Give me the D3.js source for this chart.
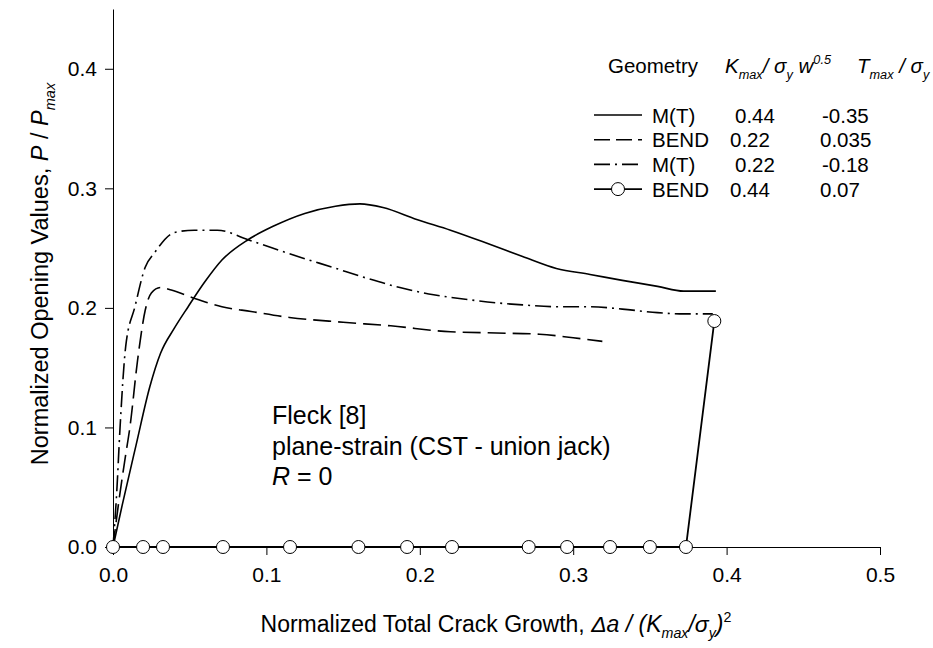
<!DOCTYPE html>
<html>
<head>
<meta charset="utf-8">
<script src="https://cdn.jsdelivr.net/npm/d3@7/dist/d3.min.js"></script>
<style>
  html, body { margin: 0; padding: 0; background: #fff; }
  svg { display: block; font-family: "Liberation Sans", Arial, sans-serif; }
</style>
</head>
<body>
<svg id="chart" width="933" height="648"></svg>
<script>
// Series: normalized crack growth (x) vs normalized opening load (y)
const mt044X = [0, 0.006, 0.015, 0.024, 0.031, 0.040, 0.049, 0.060, 0.071, 0.088, 0.104, 0.125, 0.145, 0.161, 0.176, 0.198, 0.220, 0.246, 0.267, 0.289, 0.311, 0.332, 0.355, 0.372, 0.393];
const mt044Y = [0, 0.035, 0.085, 0.134, 0.162, 0.183, 0.201, 0.222, 0.240, 0.257, 0.268, 0.279, 0.285, 0.287, 0.284, 0.274, 0.265, 0.253, 0.243, 0.233, 0.228, 0.223, 0.218, 0.214, 0.214];

const bend022X = [0, 0.004, 0.008, 0.011, 0.016, 0.021, 0.025, 0.031, 0.038, 0.053, 0.071, 0.090, 0.115, 0.150, 0.181, 0.220, 0.250, 0.278, 0.300, 0.319];
const bend022Y = [0, 0.040, 0.075, 0.100, 0.156, 0.198, 0.2125, 0.217, 0.215, 0.208, 0.201, 0.197, 0.192, 0.188, 0.185, 0.180, 0.179, 0.178, 0.175, 0.172];

const mt022X = [0, 0.0024, 0.0046, 0.0083, 0.0143, 0.021, 0.027, 0.040, 0.053, 0.068, 0.088, 0.104, 0.123, 0.143, 0.165, 0.187, 0.209, 0.231, 0.252, 0.267, 0.289, 0.311, 0.332, 0.355, 0.372, 0.391];
const mt022Y = [0, 0.045, 0.100, 0.168, 0.201, 0.234, 0.246, 0.263, 0.265, 0.265, 0.257, 0.250, 0.242, 0.234, 0.225, 0.217, 0.211, 0.207, 0.204, 0.2025, 0.201, 0.201, 0.199, 0.196, 0.195, 0.195];

const bend044X = [0, 0.0196, 0.0326, 0.0717, 0.1154, 0.160, 0.1917, 0.221, 0.271, 0.296, 0.324, 0.350, 0.3735, 0.392];
const bend044Y = [0, 0, 0, 0, 0, 0, 0, 0, 0, 0, 0, 0, 0, 0.189];

// Axis ticks
const xTicks = [0, 0.1, 0.2, 0.3, 0.4, 0.5];
const yTicks = [0, 0.1, 0.2, 0.3, 0.4];

// Legend table
const legendGeometry = ["M(T)", "BEND", "M(T)", "BEND"];
const legendK = ["0.44", "0.22", "0.22", "0.44"];
const legendT = ["-0.35", "0.035", "-0.18", "0.07"];

const svg = d3.select("#chart");
svg.append("rect").attr("width", 933).attr("height", 648).attr("fill", "#fff");

const x = d3.scaleLinear().domain([0, 0.5]).range([113, 880]);
const y = d3.scaleLinear().domain([0, 0.45]).range([547, 9]);

// Text with italic / sub / superscript runs
function rich(parent, px, py, parts, size, anchor) {
  const t = parent.append("text")
    .attr("x", px).attr("y", py)
    .attr("font-size", size)
    .attr("text-anchor", anchor || "start")
    .attr("fill", "#000");
  let shift = 0;
  parts.forEach(p => {
    const s = (p.sub || p.sup) ? size * 0.62 : size;
    const target = p.sub ? size * 0.28 : (p.sup ? -size * 0.42 : 0);
    const ts = t.append("tspan")
      .attr("font-size", s)
      .attr("dy", target - shift)
      .style("white-space", "pre")
      .text(p.t);
    if (p.i) ts.attr("font-style", "italic");
    shift = target;
  });
  return t;
}

// Axes
const xAxis = d3.axisBottom(x).tickValues(xTicks).tickFormat(d3.format(".1f"))
  .tickSizeInner(8).tickSizeOuter(0).tickPadding(12);
const yAxis = d3.axisLeft(y).tickValues(yTicks).tickFormat(d3.format(".1f"))
  .tickSizeInner(8).tickSizeOuter(0).tickPadding(8);

const gx = svg.append("g").attr("transform", "translate(0,547)").call(xAxis);
const gy = svg.append("g").attr("transform", "translate(113,0)").call(yAxis);
[gx, gy].forEach(g => {
  g.selectAll("path.domain").attr("stroke", "#000").attr("stroke-width", 1);
  g.selectAll(".tick line").attr("stroke", "#000").attr("stroke-width", 1);
  g.selectAll(".tick text").attr("font-size", 21).attr("fill", "#000")
    .attr("font-family", "Liberation Sans, Arial, sans-serif");
});

// Axis titles
rich(svg, 496, 632, [
  { t: "Normalized Total Crack Growth, " },
  { t: "\u0394a / (K", i: true },
  { t: "max", i: true, sub: true },
  { t: "/\u03C3", i: true },
  { t: "y", i: true, sub: true },
  { t: ")", i: true },
  { t: "2", sup: true }
], 23, "middle");

const yTitle = svg.append("g").attr("transform", "translate(48,274) rotate(-90)");
rich(yTitle, 0, 0, [
  { t: "Normalized Opening Values, " },
  { t: "P", i: true },
  { t: " / " },
  { t: "P", i: true },
  { t: "max", i: true, sub: true }
], 23.5, "middle");

// Curves
const toPts = (xs, ys) => xs.map((v, i) => [v, ys[i]]);
const smooth = d3.line().x(d => x(d[0])).y(d => y(d[1])).curve(d3.curveMonotoneX);
const straight = d3.line().x(d => x(d[0])).y(d => y(d[1]));

svg.append("path").attr("d", smooth(toPts(mt044X, mt044Y)))
  .attr("fill", "none").attr("stroke", "#000").attr("stroke-width", 1.6);
svg.append("path").attr("d", smooth(toPts(bend022X, bend022Y)))
  .attr("fill", "none").attr("stroke", "#000").attr("stroke-width", 1.6)
  .attr("stroke-dasharray", "18,7");
svg.append("path").attr("d", smooth(toPts(mt022X, mt022Y)))
  .attr("fill", "none").attr("stroke", "#000").attr("stroke-width", 1.6)
  .attr("stroke-dasharray", "16,5,2,5");

const bendPts = toPts(bend044X, bend044Y);
svg.append("path").attr("d", straight(bendPts))
  .attr("fill", "none").attr("stroke", "#000").attr("stroke-width", 1.8);
svg.append("g").selectAll("circle").data(bendPts).join("circle")
  .attr("cx", d => x(d[0])).attr("cy", d => y(d[1])).attr("r", 6.5)
  .attr("fill", "#fff").attr("stroke", "#000").attr("stroke-width", 1);

// Annotation
const note = svg.append("g");
rich(note, 272, 424, [{ t: "Fleck [8]" }], 25);
rich(note, 272, 455, [{ t: "plane-strain (CST - union jack)" }], 25);
rich(note, 272, 485, [{ t: "R", i: true }, { t: " = 0" }], 25);

// Legend
const lg = svg.append("g");
rich(lg, 608, 73, [{ t: "Geometry" }], 20.5);
rich(lg, 725, 73, [
  { t: "K", i: true }, { t: "max", i: true, sub: true },
  { t: "/ \u03C3", i: true }, { t: "y", i: true, sub: true },
  { t: " w", i: true }, { t: "0.5", i: true, sup: true }
], 20.5);
rich(lg, 857, 73, [
  { t: "T", i: true }, { t: "max", i: true, sub: true },
  { t: " / \u03C3", i: true }, { t: "y", i: true, sub: true }
], 20.5);

const dashes = [null, "16,6", "16,5,2,5", null];
legendGeometry.forEach((name, i) => {
  const cy = 115 + i * 24.7;
  lg.append("line").attr("x1", 594).attr("x2", 642).attr("y1", cy).attr("y2", cy)
    .attr("stroke", "#000").attr("stroke-width", 1.6)
    .attr("stroke-dasharray", dashes[i]);
  if (i === 3) {
    lg.append("circle").attr("cx", 618).attr("cy", cy).attr("r", 6.5)
      .attr("fill", "#fff").attr("stroke", "#000").attr("stroke-width", 1);
  }
  rich(lg, 652, cy + 7.5, [{ t: name }], 20.5);
  rich(lg, name === "BEND" ? 730 : 735, cy + 7.5, [{ t: legendK[i] }], 20.5);
  rich(lg, legendT[i].startsWith("-") ? 822 : 820, cy + 7.5, [{ t: legendT[i] }], 20.5);
});
</script>
</body>
</html>
